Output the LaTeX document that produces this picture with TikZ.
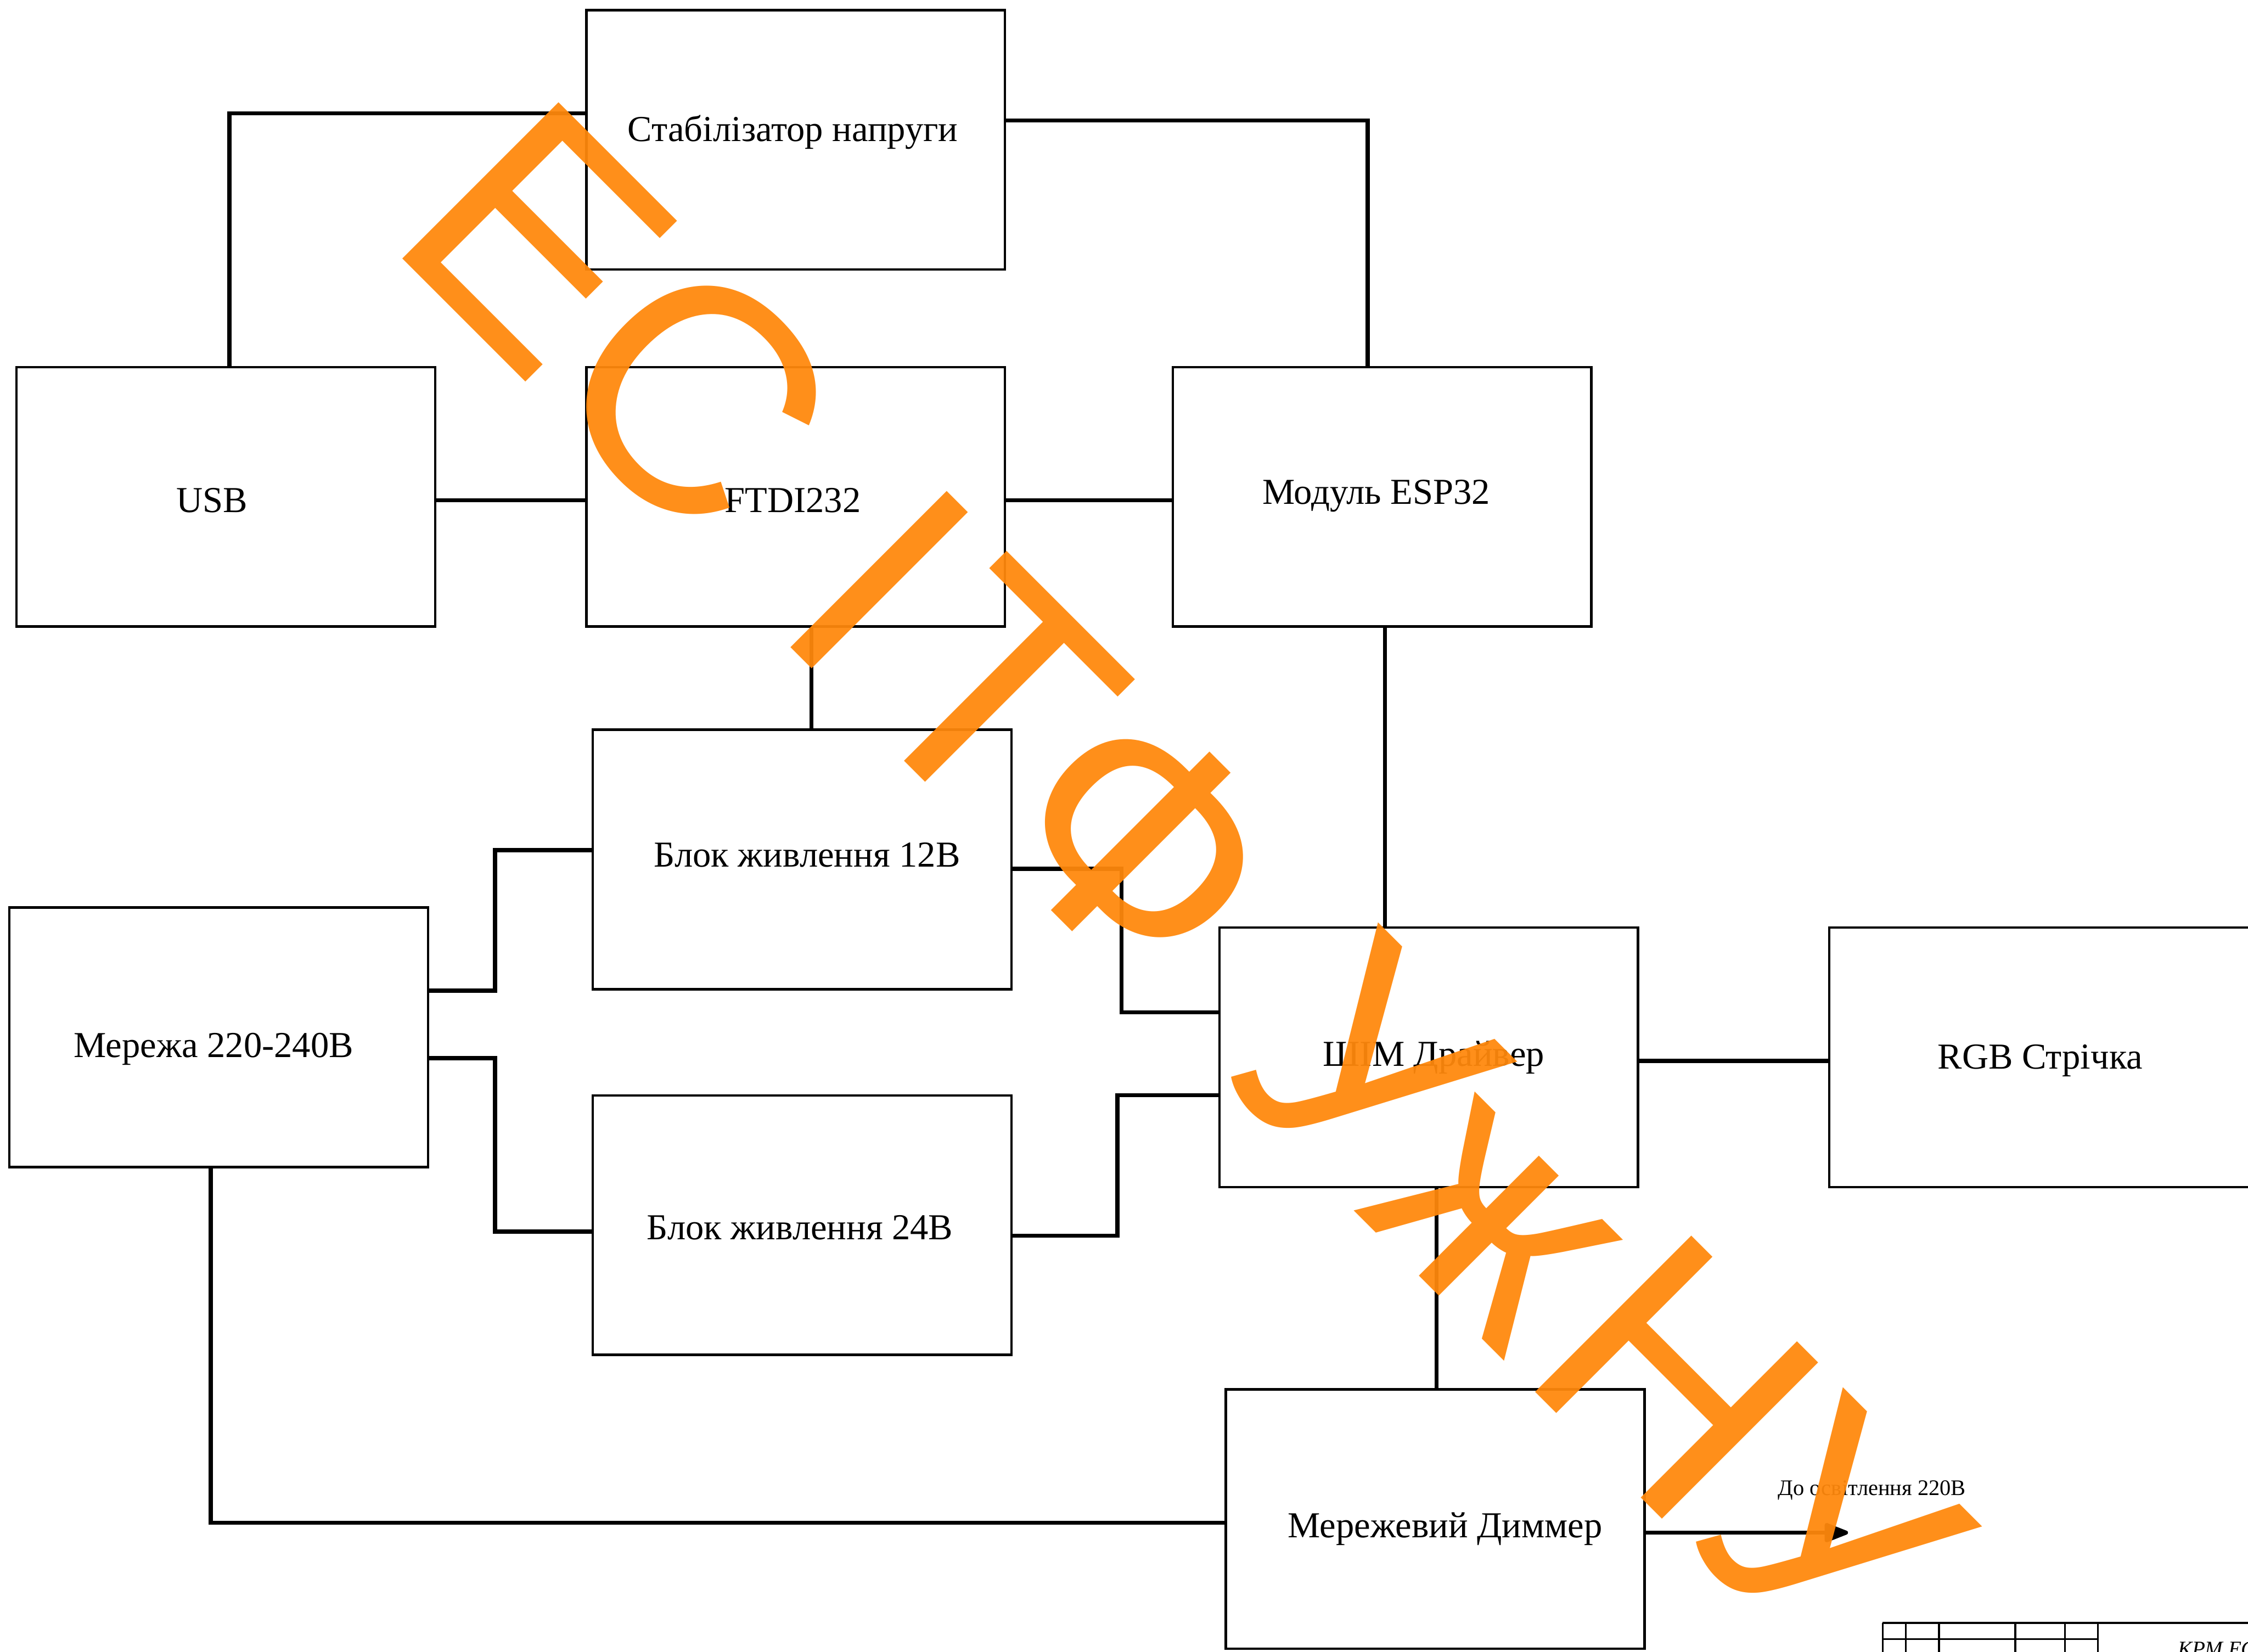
\documentclass[tikz,border=0pt]{standalone}
\usepackage{fontspec}
\setmainfont{Liberation Serif}
\newfontfamily\wmfont{Liberation Sans}
\usetikzlibrary{arrows.meta}
\definecolor{wmorange}{RGB}{255,136,12}
\tikzset{
  box/.style={draw=black, line width=1.7pt, minimum width=292pt, minimum height=181pt, inner sep=0pt},
  lbl/.style={anchor=base, inner sep=0pt, font=\fontsize{25.5}{30}\selectfont},
  conn/.style={draw=black, line width=2.8pt, line cap=round, line join=miter},
  tbl/.style={draw=black, line width=1.3pt},
}
\begin{document}
\begin{tikzpicture}[x=1pt,y=-1pt]
\useasboundingbox (0,0) rectangle (1568,1152);
\clip (0,0) rectangle (1568,1152);
\fill[white] (0,0) rectangle (1568,1152);

% boxes
\node[box] (stab) at (555,97.5) {};
\node[box] (usb)  at (157.5,346.5) {};
\node[box] (ftdi) at (555,346.5) {};
\node[box] (esp)  at (964,346.5) {};
\node[box] (bl12) at (559.5,599.5) {};
\node[box] (net)  at (152.5,723.5) {};
\node[box] (pwm)  at (996.5,737.5) {};
\node[box, minimum width=310pt] (rgb) at (1431,737.5) {};
\node[box] (bl24) at (559.5,854.5) {};
\node[box] (dim)  at (1001,1059.5) {};

% labels
\node[lbl] (tstab) at (553,98.5) {Стабілізатор напруги};
\node[lbl] (tusb)  at (148,357.5) {USB};
\node[lbl] (tftdi) at (553,357.5) {FTDI232};
\node[lbl] (tesp)  at (960,351.5) {Модуль ESP32};
\node[lbl] (tbl12) at (563,604.5) {Блок живлення 12В};
\node[lbl] (tnet)  at (149,737.5) {Мережа 220-240В};
\node[lbl] (tpwm)  at (1000,743.5) {ШІМ Драйвер};
\node[lbl] (trgb)  at (1423,745.5) {RGB Стрічка};
\node[lbl] (tbl24) at (558,864.5) {Блок живлення 24В};
\node[lbl] (tdim)  at (1008,1072.5) {Мережевий Диммер};

% connectors
\draw[conn] ([xshift=2.5]usb.north) |- ([yshift=18.5]stab.west);
\draw[conn] ([yshift=13.5]stab.east) -| ([xshift=-10]esp.north);
\draw[conn] ([yshift=-2.5]usb.east) -- ([yshift=-2.5]ftdi.west);
\draw[conn] ([yshift=-2.5]ftdi.east) -- ([yshift=-2.5]esp.west);
\draw[conn] ([xshift=11]ftdi.south) -- ([xshift=6.5]bl12.north);
\draw[conn] ([xshift=2]esp.south) -- ([xshift=-30.5]pwm.north);
\draw[conn] ([yshift=32.5]net.east) -- ++(46,0) |- ([yshift=6.5]bl12.west);
\draw[conn] ([yshift=-14.5]net.east) -- ++(46,0) |- ([yshift=-4.5]bl24.west);
\draw[conn] ([yshift=-6.5]bl12.east) -- ++(76,0) |- ([yshift=31.5]pwm.west);
\draw[conn] ([yshift=-7.5]bl24.east) -- ++(73,0) |- ([yshift=-26.5]pwm.west);
\draw[conn] ([yshift=-2.5]pwm.east) -- ([yshift=-2.5]rgb.west);
\draw[conn] ([xshift=5.5]pwm.south) -- ([xshift=1]dim.north);
\draw[conn] ([xshift=-5.5]net.south) |- ([yshift=-2.5]dim.west);
\coordinate (out) at (1289,1069);
\draw[conn, -{Triangle[length=19pt,width=14pt,round]}] ([yshift=-9.5]dim.east) -- (out);
\node[anchor=base west, inner sep=0pt, font=\fontsize{15.5}{18}\selectfont] (tout) at (1240,1043) {До освітлення 220В};

% title block fragment
\draw[tbl, line width=1.5pt] (1313,1132) -- (1570,1132);
\foreach \xx in {1313.2,1329.4,1352.4,1405.7,1440.2,1463.2}
  \draw[tbl] (\xx,1132) -- (\xx,1154);
\draw[tbl, line width=1pt] (1313,1143.2) -- (1463.2,1143.2);
\node[anchor=north west, inner sep=0pt, font=\itshape\fontsize{15}{18}\selectfont] (tkrm) at (1519,1145) {КРМ.ЕС};

% watermark
\node[anchor=base west, inner sep=0pt, rotate=-45, text=wmorange, text opacity=0.94,
      font=\wmfont\fontsize{224}{224}\selectfont] (wm) at (267.5,167.5) {ЕС\kern70ptІ\kern12ptТФ\kern4pt{} Уж\kern12ptНУ};
\end{tikzpicture}
\end{document}
